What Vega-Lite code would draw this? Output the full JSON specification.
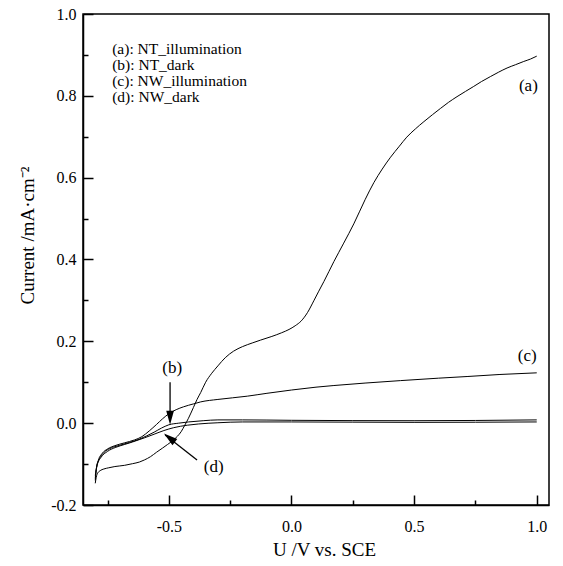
{
  "$schema": "https://vega.github.io/schema/vega-lite/v6.json",
  "width": 466,
  "height": 491,
  "autosize": {"type": "none"},
  "padding": {"left": 83, "top": 14, "right": 14, "bottom": 61},
  "background": "white",
  "config": {
    "view": {"stroke": "black", "strokeWidth": 1.5},
    "font": "Liberation Serif",
    "axis": {
      "grid": false,
      "domainColor": "black",
      "domainWidth": 1.5,
      "tickColor": "black",
      "tickWidth": 1.5,
      "labelFont": "Liberation Serif",
      "labelFontSize": 16,
      "labelColor": "black",
      "titleFont": "Liberation Serif",
      "titleFontSize": 19,
      "titleFontWeight": "normal",
      "titleColor": "black"
    }
  },
  "datasets": {
    "curves": [
      {"s":"a","i":1,"u":-0.800,"v":-0.147},{"s":"a","i":2,"u":-0.796,"v":-0.132},{"s":"a","i":3,"u":-0.790,"v":-0.122},{"s":"a","i":4,"u":-0.780,"v":-0.116},{"s":"a","i":5,"u":-0.765,"v":-0.112},{"s":"a","i":6,"u":-0.745,"v":-0.109},{"s":"a","i":7,"u":-0.720,"v":-0.106},{"s":"a","i":8,"u":-0.680,"v":-0.103},{"s":"a","i":9,"u":-0.648,"v":-0.099},{"s":"a","i":10,"u":-0.620,"v":-0.095},{"s":"a","i":11,"u":-0.600,"v":-0.090},{"s":"a","i":12,"u":-0.575,"v":-0.082},{"s":"a","i":13,"u":-0.550,"v":-0.071},{"s":"a","i":14,"u":-0.526,"v":-0.061},{"s":"a","i":15,"u":-0.505,"v":-0.052},{"s":"a","i":16,"u":-0.485,"v":-0.043},{"s":"a","i":17,"u":-0.465,"v":-0.032},{"s":"a","i":18,"u":-0.450,"v":-0.021},{"s":"a","i":19,"u":-0.435,"v":-0.005},{"s":"a","i":20,"u":-0.420,"v":0.012},{"s":"a","i":21,"u":-0.400,"v":0.038},{"s":"a","i":22,"u":-0.385,"v":0.058},{"s":"a","i":23,"u":-0.370,"v":0.075},{"s":"a","i":24,"u":-0.350,"v":0.100},{"s":"a","i":25,"u":-0.325,"v":0.122},{"s":"a","i":26,"u":-0.300,"v":0.140},{"s":"a","i":27,"u":-0.270,"v":0.160},{"s":"a","i":28,"u":-0.236,"v":0.176},{"s":"a","i":29,"u":-0.200,"v":0.187},{"s":"a","i":30,"u":-0.160,"v":0.196},{"s":"a","i":31,"u":-0.126,"v":0.203},{"s":"a","i":32,"u":-0.080,"v":0.212},{"s":"a","i":33,"u":-0.040,"v":0.221},{"s":"a","i":34,"u":-0.010,"v":0.229},{"s":"a","i":35,"u":0.015,"v":0.238},{"s":"a","i":36,"u":0.040,"v":0.250},{"s":"a","i":37,"u":0.065,"v":0.270},{"s":"a","i":38,"u":0.091,"v":0.299},{"s":"a","i":39,"u":0.110,"v":0.321},{"s":"a","i":40,"u":0.132,"v":0.346},{"s":"a","i":41,"u":0.173,"v":0.395},{"s":"a","i":42,"u":0.213,"v":0.440},{"s":"a","i":43,"u":0.254,"v":0.487},{"s":"a","i":44,"u":0.300,"v":0.546},{"s":"a","i":45,"u":0.336,"v":0.588},{"s":"a","i":46,"u":0.370,"v":0.621},{"s":"a","i":47,"u":0.404,"v":0.650},{"s":"a","i":48,"u":0.440,"v":0.677},{"s":"a","i":49,"u":0.470,"v":0.699},{"s":"a","i":50,"u":0.505,"v":0.719},{"s":"a","i":51,"u":0.540,"v":0.737},{"s":"a","i":52,"u":0.575,"v":0.754},{"s":"a","i":53,"u":0.607,"v":0.769},{"s":"a","i":54,"u":0.640,"v":0.784},{"s":"a","i":55,"u":0.675,"v":0.798},{"s":"a","i":56,"u":0.710,"v":0.811},{"s":"a","i":57,"u":0.743,"v":0.823},{"s":"a","i":58,"u":0.775,"v":0.835},{"s":"a","i":59,"u":0.811,"v":0.847},{"s":"a","i":60,"u":0.845,"v":0.858},{"s":"a","i":61,"u":0.879,"v":0.868},{"s":"a","i":62,"u":0.913,"v":0.876},{"s":"a","i":63,"u":0.947,"v":0.884},{"s":"a","i":64,"u":0.975,"v":0.890},{"s":"a","i":65,"u":1.000,"v":0.897},

      {"s":"c","i":1,"u":-0.800,"v":-0.140},{"s":"c","i":2,"u":-0.796,"v":-0.114},{"s":"c","i":3,"u":-0.787,"v":-0.090},{"s":"c","i":4,"u":-0.772,"v":-0.074},{"s":"c","i":5,"u":-0.750,"v":-0.063},{"s":"c","i":6,"u":-0.720,"v":-0.055},{"s":"c","i":7,"u":-0.680,"v":-0.048},{"s":"c","i":8,"u":-0.640,"v":-0.041},{"s":"c","i":9,"u":-0.610,"v":-0.033},{"s":"c","i":10,"u":-0.580,"v":-0.019},{"s":"c","i":11,"u":-0.550,"v":-0.003},{"s":"c","i":12,"u":-0.525,"v":0.011},{"s":"c","i":13,"u":-0.500,"v":0.023},{"s":"c","i":14,"u":-0.470,"v":0.033},{"s":"c","i":15,"u":-0.440,"v":0.040},{"s":"c","i":16,"u":-0.400,"v":0.047},{"s":"c","i":17,"u":-0.370,"v":0.052},{"s":"c","i":18,"u":-0.300,"v":0.058},{"s":"c","i":19,"u":-0.240,"v":0.062},{"s":"c","i":20,"u":-0.180,"v":0.066},{"s":"c","i":21,"u":-0.100,"v":0.073},{"s":"c","i":22,"u":0.000,"v":0.081},{"s":"c","i":23,"u":0.100,"v":0.088},{"s":"c","i":24,"u":0.173,"v":0.092},{"s":"c","i":25,"u":0.300,"v":0.098},{"s":"c","i":26,"u":0.444,"v":0.104},{"s":"c","i":27,"u":0.600,"v":0.110},{"s":"c","i":28,"u":0.716,"v":0.114},{"s":"c","i":29,"u":0.850,"v":0.119},{"s":"c","i":30,"u":1.000,"v":0.123},

      {"s":"b","i":1,"u":-0.800,"v":-0.135},{"s":"b","i":2,"u":-0.795,"v":-0.108},{"s":"b","i":3,"u":-0.783,"v":-0.087},{"s":"b","i":4,"u":-0.765,"v":-0.072},{"s":"b","i":5,"u":-0.740,"v":-0.062},{"s":"b","i":6,"u":-0.700,"v":-0.054},{"s":"b","i":7,"u":-0.660,"v":-0.047},{"s":"b","i":8,"u":-0.620,"v":-0.039},{"s":"b","i":9,"u":-0.590,"v":-0.031},{"s":"b","i":10,"u":-0.560,"v":-0.022},{"s":"b","i":11,"u":-0.530,"v":-0.012},{"s":"b","i":12,"u":-0.500,"v":-0.004},{"s":"b","i":13,"u":-0.460,"v":0.000},{"s":"b","i":14,"u":-0.420,"v":0.003},{"s":"b","i":15,"u":-0.360,"v":0.006},{"s":"b","i":16,"u":-0.300,"v":0.008},{"s":"b","i":17,"u":-0.200,"v":0.008},{"s":"b","i":18,"u":0.000,"v":0.007},{"s":"b","i":19,"u":0.500,"v":0.006},{"s":"b","i":20,"u":1.000,"v":0.008},

      {"s":"d","i":1,"u":-0.800,"v":-0.128},{"s":"d","i":2,"u":-0.792,"v":-0.102},{"s":"d","i":3,"u":-0.777,"v":-0.084},{"s":"d","i":4,"u":-0.750,"v":-0.069},{"s":"d","i":5,"u":-0.716,"v":-0.059},{"s":"d","i":6,"u":-0.680,"v":-0.052},{"s":"d","i":7,"u":-0.648,"v":-0.046},{"s":"d","i":8,"u":-0.600,"v":-0.036},{"s":"d","i":9,"u":-0.560,"v":-0.027},{"s":"d","i":10,"u":-0.520,"v":-0.018},{"s":"d","i":11,"u":-0.480,"v":-0.011},{"s":"d","i":12,"u":-0.425,"v":-0.005},{"s":"d","i":13,"u":-0.380,"v":-0.002},{"s":"d","i":14,"u":-0.300,"v":0.001},{"s":"d","i":15,"u":-0.200,"v":0.003},{"s":"d","i":16,"u":0.000,"v":0.003},{"s":"d","i":17,"u":0.500,"v":0.002},{"s":"d","i":18,"u":1.000,"v":0.003}
    ],
    "arrows": [
      {"u":-0.495,"v":0.100,"u2":-0.495,"v2":0.010},
      {"u":-0.385,"v":-0.090,"u2":-0.515,"v2":-0.029}
    ],
    "heads": [
      {"u":-0.495,"v":-0.004,"ang":0},
      {"u":-0.520,"v":-0.025,"ang":128.6}
    ],
    "labels": [
      {"u":0.966,"v":0.823,"t":"(a)"},
      {"u":-0.486,"v":0.134,"t":"(b)"},
      {"u":0.961,"v":0.163,"t":"(c)"},
      {"u":-0.317,"v":-0.106,"t":"(d)"}
    ],
    "legend": [
      {"u":-0.731,"v":0.915,"t":"(a): NT_illumination"},
      {"u":-0.731,"v":0.875,"t":"(b): NT_dark"},
      {"u":-0.731,"v":0.836,"t":"(c): NW_illumination"},
      {"u":-0.731,"v":0.797,"t":"(d): NW_dark"}
    ]
  },
  "layer": [
    {
      "data": {"name": "curves"},
      "mark": {"type": "line", "color": "black", "strokeWidth": 1, "interpolate": "monotone"},
      "encoding": {
        "x": {
          "field": "u", "type": "quantitative", "title": "U /V vs. SCE",
          "scale": {"domain": [-0.85, 1.05], "nice": false, "zero": false},
          "axis": {
            "values": [-0.75, -0.5, -0.25, 0, 0.25, 0.5, 0.75, 1.0],
            "labelExpr": "abs(datum.value*2 - round(datum.value*2)) > 0.01 ? '' : replace(format(datum.value, '.1f'), '−', '-')",
            "tickSize": {"condition": {"test": "abs(datum.value*2 - round(datum.value*2)) > 0.01", "value": -5}, "value": -10},
            "labelFontSize": 16,
            "labelPadding": 23,
            "titleFontSize": 19,
            "titleX": 241,
            "titleY": 50,
            "titleBaseline": "alphabetic"
          }
        },
        "y": {
          "field": "v", "type": "quantitative", "title": "Current /mA·cm⁻²",
          "scale": {"domain": [-0.2, 1.0], "nice": false, "zero": false},
          "axis": {
            "values": [-0.2, -0.1, 0, 0.1, 0.2, 0.3, 0.4, 0.5, 0.6, 0.7, 0.8, 0.9, 1.0],
            "labelExpr": "abs(datum.value*5 - round(datum.value*5)) > 0.01 ? '' : replace(format(datum.value, '.1f'), '−', '-')",
            "tickSize": {"condition": {"test": "abs(datum.value*5 - round(datum.value*5)) > 0.01", "value": -5}, "value": -10},
            "labelFontSize": 16,
            "labelPadding": 17,
            "titleFontSize": 19,
            "titleX": -50,
            "titleY": 221,
            "titleBaseline": "alphabetic"
          }
        },
        "detail": {"field": "s"},
        "order": {"field": "i", "type": "quantitative"}
      }
    },
    {
      "data": {"name": "arrows"},
      "mark": {"type": "rule", "color": "black", "strokeWidth": 1.3},
      "encoding": {
        "x": {"field": "u", "type": "quantitative", "title": "U /V vs. SCE"},
        "y": {"field": "v", "type": "quantitative", "title": "Current /mA·cm⁻²"},
        "x2": {"field": "u2"},
        "y2": {"field": "v2"}
      }
    },
    {
      "data": {"name": "heads"},
      "mark": {"type": "point", "filled": true, "color": "black", "opacity": 1, "shape": "M0,0L-0.55,-2L0.55,-2Z", "size": 196, "strokeWidth": 0},
      "encoding": {
        "x": {"field": "u", "type": "quantitative", "title": "U /V vs. SCE"},
        "y": {"field": "v", "type": "quantitative", "title": "Current /mA·cm⁻²"},
        "angle": {"field": "ang", "type": "quantitative", "scale": null}
      }
    },
    {
      "data": {"name": "labels"},
      "mark": {"type": "text", "font": "Liberation Serif", "fontSize": 17, "color": "black", "align": "center", "baseline": "middle"},
      "encoding": {
        "x": {"field": "u", "type": "quantitative", "title": "U /V vs. SCE"},
        "y": {"field": "v", "type": "quantitative", "title": "Current /mA·cm⁻²"},
        "text": {"field": "t"}
      }
    },
    {
      "data": {"name": "legend"},
      "mark": {"type": "text", "font": "Liberation Serif", "fontSize": 15.5, "color": "black", "align": "left", "baseline": "middle"},
      "encoding": {
        "x": {"field": "u", "type": "quantitative", "title": "U /V vs. SCE"},
        "y": {"field": "v", "type": "quantitative", "title": "Current /mA·cm⁻²"},
        "text": {"field": "t"}
      }
    }
  ]
}
